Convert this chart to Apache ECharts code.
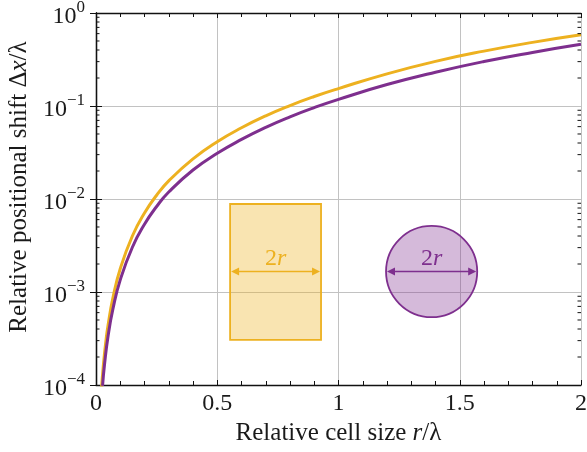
<!DOCTYPE html>
<html>
<head>
<meta charset="utf-8">
<script src="https://cdn.jsdelivr.net/npm/echarts@6/dist/echarts.min.js"></script>
<style>
  html, body { margin: 0; padding: 0; background: #fff; }
  #main { width: 587px; height: 452px; }
</style>
</head>
<body>
<div id="main"></div>
<script>
// data
var orangeR   = [0.023, 0.03, 0.04, 0.05, 0.07, 0.1, 0.15, 0.2, 0.25, 0.3, 0.4, 0.5, 0.6, 0.7, 0.8, 0.9, 1.0, 1.2, 1.4, 1.6, 1.8, 2.0];
var orangeVal = [9.4e-5, 1.6e-4, 2.85e-4, 4.45e-4, 8.7e-4, 1.78e-3, 4.0e-3, 7.08e-3, 0.01097, 0.01566, 0.027, 0.0413, 0.0583, 0.0784, 0.1011, 0.1264, 0.154, 0.2218, 0.302, 0.389, 0.483, 0.583];
var purpleR   = [0.027, 0.035, 0.05, 0.07, 0.1, 0.15, 0.2, 0.25, 0.3, 0.4, 0.5, 0.6, 0.7, 0.8, 0.9, 1.0, 1.2, 1.4, 1.6, 1.8, 2.0];
var purpleVal = [9.8e-5, 1.65e-4, 3.38e-4, 6.6e-4, 1.35e-3, 3.03e-3, 5.36e-3, 8.31e-3, 0.01188, 0.0205, 0.031, 0.0437, 0.059, 0.0765, 0.0962, 0.118, 0.17, 0.231, 0.301, 0.377, 0.461];
var xTickLabels = ['0', '0.5', '1', '1.5', '2'];
var yExponents  = ['0', '−1', '−2', '−3', '−4'];

// inset sketches (data coordinates)
var squareBox = [0.553, 0.928, 3.05e-4, 8.84e-3];   // x0, x1, y0, y1
var circleMid = [1.384, 1.66e-3];
var circleRad = 0.188;                               // in x units

var ORANGE = '#EDB120';
var PURPLE = '#7E2F8E';
var FONT = 'Liberation Serif';
var TXT = '#1a1a1a';

function pairs(xs, ys) {
  return xs.map(function (x, i) { return [x, ys[i]]; });
}

// minor log ticks 2..9 for every decade
var minorLog = [];
for (var e = -4; e < 0; e++) {
  for (var m = 2; m <= 9; m++) minorLog.push([0, m * Math.pow(10, e)]);
}

function arrow(x0, x1, y, color) {
  var h = 8, w = 4;
  return [
    { type: 'line', shape: { x1: x0 + 3, y1: y, x2: x1 - 3, y2: y }, style: { stroke: color, lineWidth: 1.4 } },
    { type: 'polygon', shape: { points: [[x0, y], [x0 + h, y - w], [x0 + h, y + w]] }, style: { fill: color } },
    { type: 'polygon', shape: { points: [[x1, y], [x1 - h, y - w], [x1 - h, y + w]] }, style: { fill: color } }
  ];
}

function label2r(x, y, color) {
  return {
    type: 'text',
    style: {
      x: x, y: y, align: 'center', verticalAlign: 'middle',
      text: '{a|2}{b|r}',
      rich: {
        a: { fontFamily: FONT, fontSize: 24, fill: color, color: color },
        b: { fontFamily: FONT, fontSize: 24, fontStyle: 'italic', fill: color, color: color }
      }
    }
  };
}

var chart = echarts.init(document.getElementById('main'));

var option = {
  animation: false,
  grid: { left: 96, right: 6, top: 13, bottom: 67, containLabel: false, outerBoundsMode: 'none' },
  xAxis: [{
    type: 'value', min: 0, max: 2, interval: 0.5,
    name: '{n|Relative cell size }{i|r}{n|/λ}',
    nameLocation: 'middle', nameGap: 34,
    nameTextStyle: {
      rich: {
        n: { fontFamily: FONT, fontSize: 25, color: TXT },
        i: { fontFamily: FONT, fontSize: 25, fontStyle: 'italic', color: TXT }
      }
    },
    axisLine: { show: true, lineStyle: { color: '#111', width: 1.3 } },
    axisTick: { show: true, inside: true, length: 5, lineStyle: { color: '#111' } },
    minorTick: { show: true, splitNumber: 5, length: 4, lineStyle: { color: '#111' } },
    splitLine: { show: true, lineStyle: { color: '#c2c2c2', width: 1 } },
    axisLabel: {
      margin: 7, fontFamily: FONT, fontSize: 24, color: TXT,
      formatter: function (v) { return xTickLabels[Math.round(v / 0.5)]; }
    }
  }, {
    type: 'value', min: 0, max: 2, interval: 0.5, position: 'top',
    axisLine: { show: true, lineStyle: { color: '#111', width: 1.3 } },
    axisTick: { show: true, inside: true, length: 5, lineStyle: { color: '#111' } },
    minorTick: { show: true, splitNumber: 5, length: 4, lineStyle: { color: '#111' } },
    splitLine: { show: false },
    axisLabel: { show: false }
  }],
  yAxis: [{
    type: 'log', logBase: 10, min: 1e-4, max: 1,
    name: '{n|Relative positional shift }{n|Δ}{i|x}{n|/λ}',
    nameLocation: 'middle', nameGap: 64, nameRotate: 90,
    nameTextStyle: {
      padding: [0, 0, 0, 24],
      rich: {
        n: { fontFamily: FONT, fontSize: 25, color: TXT },
        i: { fontFamily: FONT, fontSize: 25, fontStyle: 'italic', color: TXT }
      }
    },
    axisLine: { show: true, lineStyle: { color: '#111', width: 1.3 } },
    axisTick: { show: true, inside: true, length: 6, lineStyle: { color: '#111' } },
    splitLine: { show: true, lineStyle: { color: '#c2c2c2', width: 1 } },
    axisLabel: {
      margin: 11, color: TXT,
      formatter: function (v) {
        var k = Math.round(-Math.log10(v));
        return '{b|10}{s|' + yExponents[k] + '}';
      },
      rich: {
        b: { fontFamily: FONT, fontSize: 24, color: TXT, padding: [8, 0, 0, 0] },
        s: { fontFamily: FONT, fontSize: 17, color: TXT, padding: [0, 0, 11, 0] }
      }
    }
  }, {
    type: 'log', logBase: 10, min: 1e-4, max: 1, position: 'right',
    axisLine: { show: true, lineStyle: { color: '#111', width: 1.3 } },
    axisTick: { show: true, inside: true, length: 6, lineStyle: { color: '#111' } },
    splitLine: { show: false },
    axisLabel: { show: false }
  }],
  series: [{
    type: 'custom', name: 'minor', silent: true, z: 5,
    xAxisIndex: 0, yAxisIndex: 0, clip: false,
    data: minorLog,
    renderItem: function (params, api) {
      var cs = params.coordSys;
      var y = api.coord([0, api.value(1)])[1];
      var st = { stroke: '#111', lineWidth: 1 };
      return {
        type: 'group', children: [
          { type: 'line', shape: { x1: cs.x, y1: y, x2: cs.x + 3.5, y2: y }, style: st },
          { type: 'line', shape: { x1: cs.x + cs.width, y1: y, x2: cs.x + cs.width - 3.5, y2: y }, style: st }
        ]
      };
    }
  }, {
    type: 'line', name: 'square', data: pairs(orangeR, orangeVal),
    smooth: 0.5, showSymbol: false, z: 3,
    lineStyle: { color: ORANGE, width: 3 }
  }, {
    type: 'line', name: 'circle', data: pairs(purpleR, purpleVal),
    smooth: 0.5, showSymbol: false, z: 3,
    lineStyle: { color: PURPLE, width: 3 }
  }, {
    type: 'custom', name: 'sketches', silent: true, z: 4,
    data: [[0]],
    renderItem: function (params, api) {
      var p0 = api.coord([squareBox[0], squareBox[3]]);
      var p1 = api.coord([squareBox[1], squareBox[2]]);
      var c = api.coord(circleMid);
      var rad = api.size([circleRad, 0])[0];
      var ay = c[1];
      var kids = [
        { type: 'rect', shape: { x: p0[0], y: p0[1], width: p1[0] - p0[0], height: p1[1] - p0[1] },
          style: { fill: 'rgba(237,177,32,0.35)', stroke: ORANGE, lineWidth: 1.8 } },
        { type: 'circle', shape: { cx: c[0], cy: c[1], r: rad },
          style: { fill: 'rgba(126,47,142,0.33)', stroke: PURPLE, lineWidth: 1.8 } }
      ];
      kids = kids.concat(arrow(p0[0] + 1, p1[0] - 1, ay, ORANGE));
      kids = kids.concat(arrow(c[0] - rad + 1, c[0] + rad - 1, ay, PURPLE));
      kids.push(label2r((p0[0] + p1[0]) / 2, ay - 13, ORANGE));
      kids.push(label2r(c[0], ay - 13, PURPLE));
      return { type: 'group', children: kids };
    }
  }]
};

chart.setOption(option);
</script>
</body>
</html>
